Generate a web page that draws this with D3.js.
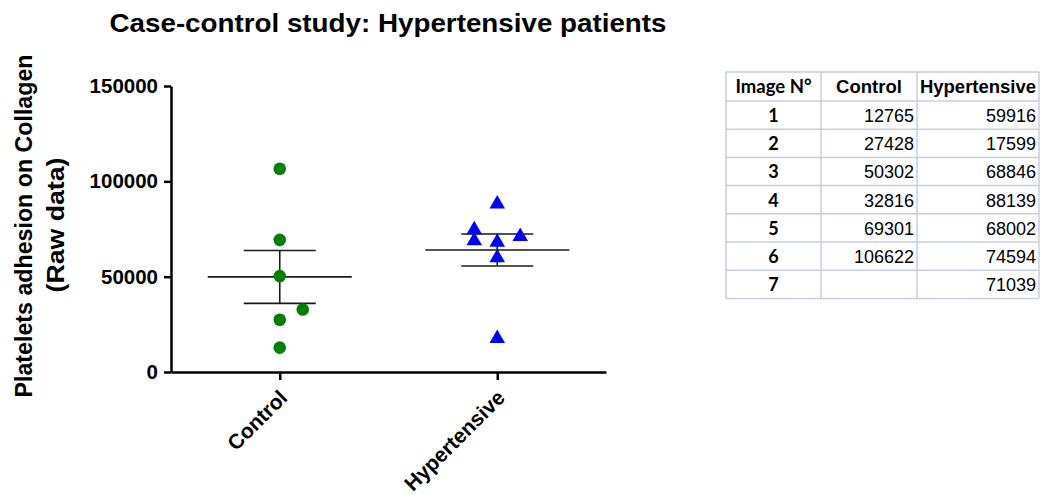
<!DOCTYPE html>
<html>
<head>
<meta charset="utf-8">
<script src="https://cdn.jsdelivr.net/npm/d3@7"></script>
<style>
body { margin: 0; background: #fff; }
text { font-family: Arial, "Liberation Sans", sans-serif; }
</style>
</head>
<body>
<svg id="chart" width="1050" height="495"></svg>
<script>
// data from the table
var groups = ["Control", "Hypertensive"];
var imageNo = [1, 2, 3, 4, 5, 6, 7];
var control = [12765, 27428, 50302, 32816, 69301, 106622];
var hypertensive = [59916, 17599, 68846, 88139, 68002, 74594, 71039];
// sideways spread of the dots (in dot widths), same order as the values
var controlJitter = [0, 0, 0, 1, 0, 0];
var hyperJitter = [0, 0, -1, 0, 0, -1, 1];
var yTicks = [0, 50000, 100000, 150000];

var svg = d3.select("#chart");

var y = d3.scaleLinear().domain([0, 150000]).range([372, 86]);
var x = d3.scalePoint().domain(groups).range([171, 606]).padding(0.5);

// title
svg.append("text")
  .attr("x", 388).attr("y", 32)
  .attr("text-anchor", "middle")
  .attr("textLength", 557).attr("lengthAdjust", "spacingAndGlyphs")
  .style("font-size", "25px").style("font-weight", "bold")
  .text("Case-control study: Hypertensive patients");

// y axis
var yAxis = svg.append("g")
  .attr("transform", "translate(171,0)")
  .call(d3.axisLeft(y).tickValues(yTicks).tickFormat(d3.format("d")).tickSize(7).tickSizeOuter(0));
yAxis.selectAll("path,line").attr("stroke", "#000").attr("stroke-width", 2.5);
yAxis.selectAll("text").style("font-size", "20.5px").style("font-weight", "bold")
  .style("font-family", "Arial, 'Liberation Sans', sans-serif").attr("fill", "#000").attr("x", -13);

// x axis
var xAxis = svg.append("g")
  .attr("transform", "translate(0,372)")
  .call(d3.axisBottom(x).tickSize(8).tickSizeOuter(0));
xAxis.selectAll("path,line").attr("stroke", "#000").attr("stroke-width", 2.5);
xAxis.selectAll("text").remove();

groups.forEach(function(g) {
  svg.append("text")
    .attr("transform", "translate(" + (x(g) + 9) + ",399) rotate(-45)")
    .attr("text-anchor", "end")
    .style("font-size", "21px").style("font-weight", "bold")
    .text(g);
});

// y label
svg.append("text")
  .attr("transform", "translate(32,226) rotate(-90)")
  .attr("text-anchor", "middle")
  .attr("textLength", 343).attr("lengthAdjust", "spacingAndGlyphs")
  .style("font-size", "23.5px").style("font-weight", "bold")
  .text("Platelets adhesion on Collagen");
svg.append("text")
  .attr("transform", "translate(64,225) rotate(-90)")
  .attr("text-anchor", "middle")
  .attr("textLength", 135).attr("lengthAdjust", "spacingAndGlyphs")
  .style("font-size", "23.5px").style("font-weight", "bold")
  .text("(Raw data)");

var step = 23;

// mean and SEM
function meanSem(vals) {
  var m = d3.mean(vals);
  var sem = d3.deviation(vals) / Math.sqrt(vals.length);
  return [m, sem];
}
[control, hypertensive].forEach(function(vals, i) {
  var cx = x(groups[i]);
  var ms = meanSem(vals);
  var gg = svg.append("g").attr("stroke", "#1a1a1a").attr("stroke-width", 1.6);
  gg.append("line").attr("x1", cx - 72).attr("x2", cx + 72).attr("y1", y(ms[0])).attr("y2", y(ms[0]));
  gg.append("line").attr("x1", cx).attr("x2", cx).attr("y1", y(ms[0] - ms[1])).attr("y2", y(ms[0] + ms[1]));
  gg.append("line").attr("x1", cx - 36).attr("x2", cx + 36).attr("y1", y(ms[0] + ms[1])).attr("y2", y(ms[0] + ms[1]));
  gg.append("line").attr("x1", cx - 36).attr("x2", cx + 36).attr("y1", y(ms[0] - ms[1])).attr("y2", y(ms[0] - ms[1]));
});

// points
svg.selectAll(".dotC").data(control).enter().append("circle")
  .attr("cx", function(d, i) { return x("Control") + controlJitter[i] * step; })
  .attr("cy", function(d) { return y(d); })
  .attr("r", 6.3)
  .attr("fill", "#008000");

svg.selectAll(".triH").data(hypertensive).enter().append("path")
  .attr("d", d3.symbol(d3.symbolTriangle).size(105))
  .attr("transform", function(d, i) {
    return "translate(" + (x("Hypertensive") + hyperJitter[i] * step) + "," + y(d) + ")";
  })
  .attr("fill", "#0000ff");

// table
var colEdges = [726, 821, 917, 1039];
var rowTop = 72, headH = 29, rowH = 28.2;
var nRows = imageNo.length;
var tableBottom = rowTop + headH + nRows * rowH;
var tb = svg.append("g");
var lineColor = "#c6cfdf";

tb.append("line").attr("x1", colEdges[0]).attr("x2", colEdges[3]).attr("y1", rowTop).attr("y2", rowTop)
  .attr("stroke", lineColor).attr("stroke-width", 1.5);
for (var r = 0; r <= nRows; r++) {
  var yy = rowTop + headH + r * rowH;
  tb.append("line").attr("x1", colEdges[0]).attr("x2", colEdges[3]).attr("y1", yy).attr("y2", yy)
    .attr("stroke", lineColor).attr("stroke-width", 1.5);
}
colEdges.forEach(function(cx) {
  tb.append("line").attr("x1", cx).attr("x2", cx).attr("y1", rowTop).attr("y2", tableBottom)
    .attr("stroke", lineColor).attr("stroke-width", 1.5);
});

var headers = ["Image N°", "Control", "Hypertensive"];
headers.forEach(function(h, i) {
  tb.append("text")
    .attr("x", (colEdges[i] + colEdges[i + 1]) / 2)
    .attr("y", rowTop + 21)
    .attr("text-anchor", "middle")
    .style("font-size", i == 0 ? "18.5px" : "18.5px").style("font-weight", "bold")
    .style("font-family", i == 0 ? "Lato, 'Open Sans', sans-serif" : "Arial, 'Liberation Sans', sans-serif")
    .text(h);
});

imageNo.forEach(function(n, r) {
  var base = rowTop + headH + r * rowH + 21;
  tb.append("text")
    .attr("x", (colEdges[0] + colEdges[1]) / 2).attr("y", base)
    .attr("text-anchor", "middle")
    .style("font-size", "18px").style("font-weight", "bold")
    .style("font-family", "Lato, 'Open Sans', sans-serif")
    .text(n);
  if (control[r] !== undefined) {
    tb.append("text")
      .attr("x", colEdges[2] - 3).attr("y", base)
      .attr("text-anchor", "end").style("font-size", "18px")
      .text(control[r]);
  }
  tb.append("text")
    .attr("x", colEdges[3] - 3).attr("y", base)
    .attr("text-anchor", "end").style("font-size", "18px")
    .text(hypertensive[r]);
});
</script>
</body>
</html>
